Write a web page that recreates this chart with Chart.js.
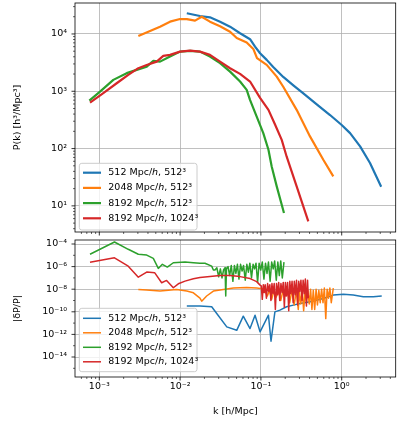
<!DOCTYPE html>
<html><head><meta charset="utf-8">
<script src="https://cdn.jsdelivr.net/npm/chart.js@4"></script>
<style>
html,body{margin:0;padding:0;background:#fff;width:399px;height:423px;overflow:hidden;position:relative}
#c1{position:absolute;left:0;top:0}
#c2{position:absolute;left:0;top:236px}
</style>
</head><body>
<canvas id="c1" width="399" height="236"></canvas>
<canvas id="c2" width="399" height="187"></canvas>
<script>
// ---------- data ----------
const seriesLabels = ['512 Mpc/h, 512³', '2048 Mpc/h, 512³', '8192 Mpc/h, 512³', '8192 Mpc/h, 1024³'];
const seriesColors = ['#1f77b4', '#ff7f0e', '#2ca02c', '#d62728'];

// top panel: P(k)
const blueK = [0.0121, 0.0176, 0.0234, 0.0312, 0.0415, 0.0552, 0.0734, 0.0846, 0.0976, 0.118, 0.142, 0.189, 0.252, 0.335, 0.491, 0.717, 1.0, 1.27, 1.69, 2.24, 3.08];
const blueP = [22960, 20600, 19500, 16400, 13400, 10300, 8090, 6010, 4610, 3530, 2650, 1780, 1270, 920, 590, 385, 258, 186, 109, 56, 21.5];
const orangeK = [0.00304, 0.00564, 0.0075, 0.00998, 0.0121, 0.0153, 0.0185, 0.0234, 0.0312, 0.0415, 0.0502, 0.0667, 0.0805, 0.0895, 0.118, 0.157, 0.189, 0.277, 0.405, 0.592, 0.787];
const orangeP = [9230, 13400, 16400, 18200, 18200, 17100, 20000, 16400, 13600, 10960, 8510, 7110, 5480, 3780, 2890, 1800, 1200, 474, 163, 63.8, 32.7];
const greenK = [7.52e-4, 1.02e-3, 1.49e-3, 2.18e-3, 2.90e-3, 3.86e-3, 4.66e-3, 5.64e-3, 7.50e-3, 9.98e-3, 0.0133, 0.0176, 0.0234, 0.0312, 0.0415, 0.0552, 0.0667, 0.0733, 0.0887, 0.107, 0.124, 0.136, 0.157, 0.193];
const greenP = [689, 988, 1580, 2070, 2360, 2690, 3390, 3290, 4030, 4920, 5060, 4920, 4030, 3090, 2200, 1480, 1060, 708, 362, 186, 95.3, 48.8, 21.9, 7.52];
const redK = [7.67e-4, 1.12e-3, 1.64e-3, 2.28e-3, 3.04e-3, 3.86e-3, 5.13e-3, 6.19e-3, 7.50e-3, 9.98e-3, 0.0133, 0.0176, 0.0234, 0.0312, 0.0415, 0.0552, 0.0734, 0.0976, 0.124, 0.150, 0.181, 0.208, 0.277, 0.386];
const redP = [635, 927, 1380, 1930, 2530, 2880, 3290, 4140, 4310, 4920, 5120, 4920, 4310, 3290, 2520, 2010, 1480, 767, 474, 260, 142, 72.8, 21.9, 5.37];

// bottom panel: |dP/P|
const blueDK = [0.0121, 0.0176, 0.0246, 0.0284, 0.0378, 0.0502, 0.0605, 0.0733, 0.0846, 0.0976, 0.124, 0.1334, 0.149, 0.172, 0.208, 0.252, 0.305, 0.405, 0.592, 0.787, 1.05, 1.39, 1.85, 2.46, 3.13];
const blueDV = [3.2e-10, 3.2e-10, 2.8e-10, 7.1e-11, 4.6e-12, 2.3e-12, 4.1e-11, 3.3e-12, 5.0e-11, 1.7e-12, 5.0e-11, 2.5e-13, 9.8e-11, 1.4e-10, 2.8e-10, 3.9e-10, 5.5e-10, 7.6e-10, 1.5e-9, 3.0e-9, 3.6e-9, 3.0e-9, 2.1e-9, 2.1e-9, 2.5e-9];
const orangeDK = [0.00304, 0.00386, 0.00564, 0.00905, 0.0121, 0.0146, 0.0176, 0.0185, 0.0213, 0.0258, 0.0344, 0.0457, 0.0665, 0.0887, 0.107,
  0.112, 0.120, 0.128, 0.136, 0.145, 0.155, 0.165, 0.176, 0.188, 0.200, 0.213, 0.227, 0.242, 0.258, 0.275, 0.290, 0.300, 0.312, 0.325, 0.338, 0.352, 0.366, 0.381, 0.396, 0.412, 0.428, 0.445, 0.463, 0.482, 0.501, 0.521, 0.542, 0.564, 0.587, 0.610, 0.635, 0.660, 0.687, 0.714, 0.743, 0.787];
const orangeDV = [9.5e-9, 8.3e-9, 6.8e-9, 9.5e-9, 6.8e-9, 4.8e-9, 1.6e-9, 8.7e-10, 2.5e-9, 6.8e-9, 9.5e-9, 1.26e-8, 1.38e-8, 1.3e-8, 1.07e-8,
  7.9e-9, 2.5e-9, 7.9e-9, 1.26e-9, 7.9e-9, 2.0e-9, 7.9e-9, 1.0e-9, 7.9e-9, 2.5e-9, 7.9e-9, 6.3e-10, 7.9e-9, 4.0e-10, 7.9e-9, 1.6e-10, 6.3e-9, 5.0e-10, 7.9e-9, 1.26e-10, 6.3e-9, 7.9e-10, 7.9e-9, 5.0e-10, 1.0e-8, 1.6e-10, 7.9e-9, 1.6e-10, 1.0e-8, 4.0e-10, 7.9e-9, 6.3e-10, 1.0e-8, 6.3e-10, 1.26e-8, 2.5e-11, 1.0e-8, 1.6e-9, 1.26e-8, 6.3e-10, 1.26e-8];
const greenDK = [7.67e-4, 1.54e-3, 2.28e-3, 3.04e-3, 3.86e-3, 4.66e-3, 5.37e-3, 6.03e-3, 6.95e-3, 8.24e-3, 0.0115, 0.0146, 0.0176, 0.0203, 0.0246, 0.0258,
  0.0270, 0.0285, 0.0300, 0.0315, 0.0330, 0.0345, 0.0360, 0.0367, 0.0375, 0.0392, 0.0410, 0.0430, 0.0450, 0.0470, 0.0490, 0.0512, 0.0535, 0.0560, 0.0585, 0.0610, 0.0640, 0.0670, 0.0700, 0.0730, 0.0765, 0.0800, 0.0835, 0.0870, 0.0910, 0.0950, 0.0995, 0.104, 0.109, 0.114, 0.119, 0.124, 0.130, 0.136, 0.142, 0.148, 0.155, 0.162, 0.169, 0.176, 0.184, 0.193];
const greenDV = [1.23e-5, 1.5e-4, 3.4e-5, 1.23e-5, 1.05e-5, 5.4e-6, 6.9e-7, 1.6e-6, 9.1e-7, 2.2e-6, 2.5e-6, 2.2e-6, 2.0e-6, 2.0e-6, 1.1e-6, 5.0e-7,
  5.0e-7, 7.9e-7, 1.26e-7, 6.3e-7, 1.0e-7, 5.0e-7, 7.9e-7, 2.5e-9, 6.3e-7, 1.0e-6, 1.6e-7, 1.26e-6, 5.0e-8, 1.26e-6, 2.5e-7, 1.6e-6, 7.9e-8, 1.6e-6, 4.0e-7, 1.26e-6, 6.3e-8, 1.6e-6, 3.2e-7, 2.0e-6, 1.0e-7, 1.6e-6, 6.3e-7, 2.0e-6, 4.0e-8, 2.0e-6, 5.0e-7, 2.5e-6, 7.9e-8, 2.0e-6, 2.5e-7, 2.5e-6, 5.0e-8, 2.5e-6, 6.3e-7, 3.2e-6, 6.3e-8, 2.5e-6, 1.6e-7, 3.2e-6, 1.0e-7, 2.5e-6];
const redDK = [7.67e-4, 1.54e-3, 2.28e-3, 3.04e-3, 3.86e-3, 4.86e-3, 5.91e-3, 6.80e-3, 8.24e-3, 9.5e-3, 0.0115, 0.0146, 0.0176, 0.0234, 0.0312, 0.0415, 0.0552, 0.0734, 0.0887, 0.0976,
  0.101, 0.104, 0.107, 0.110, 0.113, 0.117, 0.121, 0.125, 0.129, 0.133, 0.137, 0.141, 0.146, 0.151, 0.156, 0.161, 0.166, 0.171, 0.177, 0.183, 0.189, 0.195, 0.201, 0.207, 0.214, 0.221, 0.228, 0.235, 0.243, 0.251, 0.259, 0.267, 0.276, 0.285, 0.294, 0.303, 0.313, 0.323, 0.333, 0.344, 0.355, 0.366, 0.378, 0.386];
const redDV = [2.4e-6, 6.0e-6, 1.1e-6, 1.15e-7, 3.3e-7, 2.8e-7, 3.7e-8, 6.0e-8, 1.35e-8, 3.0e-8, 5.2e-8, 8.3e-8, 1.07e-7, 1.35e-7, 1.6e-7, 1.6e-7, 1.3e-7, 8.7e-8, 4.7e-8, 2.3e-8,
  2.0e-8, 1.26e-9, 2.5e-8, 5.0e-9, 2.5e-8, 1.6e-9, 3.2e-8, 6.3e-9, 2.5e-8, 1.0e-9, 3.2e-8, 4.0e-9, 3.2e-8, 1.6e-10, 3.2e-8, 3.2e-9, 4.0e-8, 1.0e-9, 3.2e-8, 5.0e-9, 4.0e-8, 2.5e-10, 4.0e-8, 2.5e-9, 4.0e-8, 1.26e-10, 5.0e-8, 4.0e-9, 5.0e-8, 6.3e-10, 5.0e-8, 3.2e-9, 6.3e-8, 4.0e-10, 5.0e-8, 6.3e-9, 6.3e-8, 1.0e-9, 6.3e-8, 4.0e-9, 7.9e-8, 3.2e-10, 6.3e-8, 1.6e-9];

// tick labels / axis ranges
const xTicks = [1e-3, 1e-2, 1e-1, 1e0];
const yTopTicks = [1e1, 1e2, 1e3, 1e4];
const yBotTicks = [1e-14, 1e-12, 1e-10, 1e-8, 1e-6, 1e-4];
const xRange = [5.0e-4, 4.66];
const yTopRange = [3.5, 34700];
const yBotRange = [1.7e-16, 2.26e-4];

// ---------- helpers ----------
const FONT = '"DejaVu Sans", sans-serif';
const FS = 9.5;
const supMap = {'-': '⁻', '0': '⁰', '1': '¹', '2': '²', '3': '³', '4': '⁴', '5': '⁵', '6': '⁶', '7': '⁷', '8': '⁸', '9': '⁹'};
function powLabel(v) {
  const e = Math.round(Math.log10(v));
  return '10' + String(e).split('').map(c => supMap[c]).join('');
}
function minorsBetween(lo, hi) {
  const out = [];
  for (let e = Math.floor(Math.log10(lo)); e <= Math.ceil(Math.log10(hi)); e++) {
    for (let m = 2; m <= 9; m++) {
      const v = m * Math.pow(10, e);
      if (v > lo && v < hi) out.push(v);
    }
  }
  return out;
}
function oddDecades(lo, hi) {
  const out = [];
  for (let e = Math.ceil(Math.log10(lo)); e <= Math.floor(Math.log10(hi)); e++) {
    if (Math.abs(e) % 2 === 1) out.push(Math.pow(10, e));
  }
  return out;
}
function mkSet(k, v, i, lw) {
  return {
    label: seriesLabels[i],
    data: k.map((x, j) => ({x: x, y: v[j]})),
    borderColor: seriesColors[i],
    backgroundColor: seriesColors[i],
    borderWidth: lw,
    pointRadius: 0,
    tension: 0,
    fill: false,
    borderJoinStyle: 'round',
    order: 4 - i
  };
}

function drawLegend(ctx, L) {
  ctx.save();
  const r = 2.5;
  ctx.beginPath();
  ctx.moveTo(L.x + r, L.y);
  ctx.lineTo(L.x + L.w - r, L.y);
  ctx.quadraticCurveTo(L.x + L.w, L.y, L.x + L.w, L.y + r);
  ctx.lineTo(L.x + L.w, L.y + L.h - r);
  ctx.quadraticCurveTo(L.x + L.w, L.y + L.h, L.x + L.w - r, L.y + L.h);
  ctx.lineTo(L.x + r, L.y + L.h);
  ctx.quadraticCurveTo(L.x, L.y + L.h, L.x, L.y + L.h - r);
  ctx.lineTo(L.x, L.y + r);
  ctx.quadraticCurveTo(L.x, L.y, L.x + r, L.y);
  ctx.closePath();
  ctx.fillStyle = 'rgba(255,255,255,0.8)';
  ctx.fill();
  ctx.strokeStyle = '#cccccc';
  ctx.lineWidth = 1;
  ctx.stroke();
  ctx.textBaseline = 'middle';
  seriesLabels.forEach((lab, i) => {
    const y = L.y0 + i * L.dy;
    ctx.strokeStyle = seriesColors[i];
    ctx.lineWidth = L.lw;
    ctx.beginPath();
    ctx.moveTo(L.x + 3.7, y);
    ctx.lineTo(L.x + 21.7, y);
    ctx.stroke();
    ctx.fillStyle = '#000';
    const parts = lab.split('/h');
    let x = L.x + 29;
    ctx.font = FS + 'px ' + FONT;
    ctx.fillText(parts[0] + '/', x, y);
    x += ctx.measureText(parts[0] + '/').width;
    ctx.font = 'italic ' + FS + 'px ' + FONT;
    ctx.fillText('h', x, y);
    x += ctx.measureText('h').width;
    ctx.font = FS + 'px ' + FONT;
    ctx.fillText(parts[1], x, y);
  });
  ctx.restore();
}

function decor(cfg) {
  return {
    id: 'decor',
    afterDatasetsDraw(chart) { drawLegend(chart.ctx, cfg.legend); },
    afterDraw(chart) {
      const ctx = chart.ctx, a = chart.chartArea, xs = chart.scales.x, ys = chart.scales.y;
      ctx.save();
      ctx.strokeStyle = '#000';
      const seg = (x1, y1, x2, y2, w) => { ctx.lineWidth = w; ctx.beginPath(); ctx.moveTo(x1, y1); ctx.lineTo(x2, y2); ctx.stroke(); };
      xTicks.forEach(v => { const p = xs.getPixelForValue(v); seg(p, a.bottom, p, a.bottom + 3.5, 0.8); });
      minorsBetween(xRange[0], xRange[1]).forEach(v => { const p = xs.getPixelForValue(v); seg(p, a.bottom, p, a.bottom + 2, 0.6); });
      cfg.yMajor.forEach(v => { const p = ys.getPixelForValue(v); seg(a.left, p, a.left - 3.5, p, 0.8); });
      cfg.yMinor.forEach(v => { const p = ys.getPixelForValue(v); seg(a.left, p, a.left - 2, p, 0.6); });
      ctx.lineWidth = 0.8;
      ctx.strokeRect(a.left, a.top, a.right - a.left, a.bottom - a.top);
      ctx.restore();
    }
  };
}

function xScale(showLabels, h, title) {
  return {
    type: 'logarithmic', min: xRange[0], max: xRange[1],
    afterBuildTicks: s => { s.ticks = xTicks.map(v => ({value: v})); },
    afterFit: s => { s.height = h; s.paddingLeft = 0; s.paddingRight = 0; },
    ticks: {display: showLabels, autoSkip: false, maxRotation: 0, padding: 4, color: '#000',
      font: {family: FONT, size: FS}, callback: v => powLabel(v)},
    grid: {color: '#b0b0b0', lineWidth: 0.8, drawTicks: false},
    border: {display: false},
    title: title ? {display: true, text: title, color: '#000', font: {family: FONT, size: FS}, padding: {top: 0, bottom: 5.6}} : {display: false}
  };
}
function yScale(range, ticks, title) {
  return {
    type: 'logarithmic', min: range[0], max: range[1],
    afterBuildTicks: s => { s.ticks = ticks.map(v => ({value: v})); },
    afterFit: s => { s.width = 75; s.paddingTop = 0; s.paddingBottom = 0; },
    ticks: {autoSkip: false, padding: 8, color: '#000', font: {family: FONT, size: FS}, callback: v => powLabel(v)},
    grid: {color: '#b0b0b0', lineWidth: 0.8, drawTicks: false},
    border: {display: false},
    title: {display: true, text: title, color: '#000', font: {family: FONT, size: FS}, padding: {top: 12, bottom: 0}}
  };
}
const common = {
  responsive: false, animation: false, devicePixelRatio: 1, events: [],
  plugins: {legend: {display: false}, tooltip: {enabled: false}}
};

new Chart(document.getElementById('c1'), {
  type: 'line',
  data: {datasets: [mkSet(blueK, blueP, 0, 2.2), mkSet(orangeK, orangeP, 1, 2.2), mkSet(greenK, greenP, 2, 2.2), mkSet(redK, redP, 3, 2.2)]},
  options: Object.assign({}, common, {
    layout: {padding: {top: 3, right: 3.3, left: 0, bottom: 0}},
    scales: {x: xScale(false, 4, null), y: yScale(yTopRange, yTopTicks, 'P(k) [h³/Mpc³]')}
  }),
  plugins: [decor({yMajor: yTopTicks, yMinor: minorsBetween(yTopRange[0], yTopRange[1]),
    legend: {x: 79.3, y: 163.3, w: 117.7, h: 66.7, y0: 172.7, dy: 15.2, lw: 2.2}})]
});

new Chart(document.getElementById('c2'), {
  type: 'line',
  data: {datasets: [mkSet(blueDK, blueDV, 0, 1.5), mkSet(orangeDK, orangeDV, 1, 1.5), mkSet(greenDK, greenDV, 2, 1.5), mkSet(redDK, redDV, 3, 1.5)]},
  options: Object.assign({}, common, {
    layout: {padding: {top: 4, right: 3.3, left: 0, bottom: 0}},
    scales: {x: xScale(true, 46, 'k [h/Mpc]'), y: yScale(yBotRange, yBotTicks, '|δP/P|')}
  }),
  plugins: [decor({yMajor: yBotTicks, yMinor: oddDecades(yBotRange[0], yBotRange[1]),
    legend: {x: 79.3, y: 72.3, w: 117.7, h: 63.4, y0: 82.3, dy: 14.5, lw: 1.5}})]
});
</script>
</body></html>
